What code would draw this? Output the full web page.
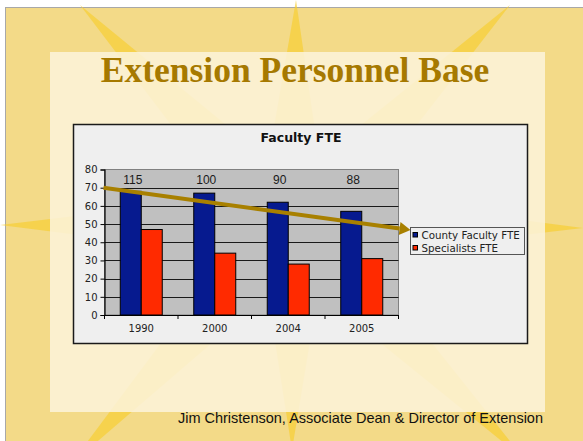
<!DOCTYPE html>
<html>
<head>
<meta charset="utf-8">
<script src="https://cdn.jsdelivr.net/npm/d3@7"></script>
<style>
  body { margin: 0; background: #fff; }
  svg { display: block; }
</style>
</head>
<body>
<svg></svg>
<script>
'use strict'

const years = ['1990', '2000', '2004', '2005']
const countyFaculty = [68, 67, 62, 57]
const specialists = [47, 34, 28, 31]
const totals = ['115', '100', '90', '88']
const seriesNames = ['County Faculty FTE', 'Specialists FTE']
const yTicks = [0, 10, 20, 30, 40, 50, 60, 70, 80]
const trend = [70, 46.7]

const colors = ['#061a8f', '#ff2a00']

const W = 583,
  H = 441

const svg = d3
  .select('svg')
  .attr('width', W)
  .attr('height', H)

// slide background
svg
  .append('rect')
  .attr('x', 5.5)
  .attr('y', 7.5)
  .attr('width', W - 5)
  .attr('height', H - 7)
  .attr('fill', '#f3da88')
  .attr('stroke', '#a8a8a8')
  .attr('stroke-width', 1)

// sun rays, pointed at the outer end
const cx = 293,
  cy = 226
const rayTips = [
  [296, 0],
  [292, 450],
  [0, 225],
  [583, 228],
  [80, 5],
  [510, 5],
  [70, 465],
  [525, 460]
]
svg
  .append('g')
  .selectAll('path')
  .data(rayTips)
  .join('path')
  .attr('d', d => {
    const dx = d[0] - cx,
      dy = d[1] - cy
    const len = Math.sqrt(dx * dx + dy * dy)
    const hw = 36
    const nx = (-dy / len) * hw,
      ny = (dx / len) * hw
    return (
      'M' + d[0] + ',' + d[1] +
      'L' + (cx + nx) + ',' + (cy + ny) +
      'L' + (cx - nx) + ',' + (cy - ny) + 'Z'
    )
  })
  .attr('fill', '#f6cf34')
  .attr('opacity', 0.7)

// light panel
svg
  .append('rect')
  .attr('x', 50)
  .attr('y', 52)
  .attr('width', 495)
  .attr('height', 360)
  .attr('fill', '#fcf2d8')
  .attr('opacity', 0.88)

svg
  .append('text')
  .attr('x', 295)
  .attr('y', 82)
  .attr('text-anchor', 'middle')
  .style('font-family', '"Liberation Serif", "Times New Roman", serif')
  .style('font-weight', 'bold')
  .style('font-size', '35.5px')
  .style('fill', '#a67900')
  .text('Extension Personnel Base')

svg
  .append('text')
  .attr('x', 543)
  .attr('y', 423)
  .attr('text-anchor', 'end')
  .style('font-family', '"Liberation Sans", Arial, sans-serif')
  .style('font-size', '14.5px')
  .style('fill', '#111')
  .text('Jim Christenson, Associate Dean & Director of Extension')

// chart box
svg
  .append('rect')
  .attr('x', 73.5)
  .attr('y', 124.5)
  .attr('width', 454)
  .attr('height', 219)
  .attr('fill', '#efefef')
  .attr('stroke', '#1a1a1a')
  .attr('stroke-width', 1.5)

svg
  .append('text')
  .attr('x', 301)
  .attr('y', 142)
  .attr('text-anchor', 'middle')
  .style('font-family', '"DejaVu Sans", Verdana, sans-serif')
  .style('font-weight', 'bold')
  .style('font-size', '12.5px')
  .style('fill', '#111')
  .text('Faculty FTE')

const plot = { left: 104.5, right: 398.5, top: 169.5, bottom: 315 }

const xScale = d3
  .scaleBand()
  .domain(years)
  .range([plot.left, plot.right])
  .paddingInner(0)
  .paddingOuter(0)

const barW = xScale.bandwidth() / 3.5

const yScale = d3
  .scaleLinear()
  .domain([0, 80])
  .range([plot.bottom, plot.top])

svg
  .append('rect')
  .attr('x', plot.left)
  .attr('y', plot.top)
  .attr('width', plot.right - plot.left)
  .attr('height', plot.bottom - plot.top)
  .attr('fill', '#c0c0c0')
  .attr('stroke', '#808080')
  .attr('stroke-width', 1)

svg
  .append('g')
  .selectAll('line')
  .data(yTicks.filter(t => t > 0 && t < 80))
  .join('line')
  .attr('x1', plot.left)
  .attr('x2', plot.right)
  .attr('y1', d => Math.round(yScale(d)) + 0.5)
  .attr('y2', d => Math.round(yScale(d)) + 0.5)
  .attr('stroke', '#1a1a1a')
  .attr('stroke-width', 1)

const series = [countyFaculty, specialists]

series.forEach((vals, s) => {
  svg
    .append('g')
    .selectAll('rect')
    .data(vals)
    .join('rect')
    .attr('x', (d, i) => xScale(years[i]) + barW * 0.75 + s * barW)
    .attr('y', d => yScale(d))
    .attr('width', barW)
    .attr('height', d => plot.bottom - yScale(d))
    .attr('fill', colors[s])
    .attr('stroke', '#000')
    .attr('stroke-width', 1)
})

// axes
const yAxis = svg
  .append('g')
  .attr('transform', 'translate(' + plot.left + ',0)')
  .call(
    d3
      .axisLeft(yScale)
      .tickValues(yTicks)
      .tickSize(4)
      .tickPadding(3)
  )

const xAxis = svg
  .append('g')
  .attr('transform', 'translate(0,' + plot.bottom + ')')
  .call(
    d3
      .axisBottom(xScale)
      .tickSize(0)
      .tickPadding(10)
  )

xAxis
  .selectAll('.tickmark')
  .data(d3.range(years.length + 1))
  .join('line')
  .attr('class', 'tickmark')
  .attr('x1', i => plot.left + i * xScale.bandwidth())
  .attr('x2', i => plot.left + i * xScale.bandwidth())
  .attr('y1', 0)
  .attr('y2', 4)
  .attr('stroke', '#000')

;[yAxis, xAxis].forEach(ax => {
  ax.select('.domain').attr('stroke', '#000').attr('stroke-width', 1.2)
  ax.selectAll('.tick line').attr('stroke', '#000')
  ax
    .selectAll('text')
    .style('font-family', '"DejaVu Sans", Verdana, sans-serif')
    .style('font-size', '10px')
    .style('fill', '#222')
})

// totals above bars
svg
  .append('g')
  .selectAll('text')
  .data(totals)
  .join('text')
  .attr('x', (d, i) => xScale(years[i]) + barW * 1.25 + 2)
  .attr('y', 183.5)
  .attr('text-anchor', 'middle')
  .style('font-family', '"Liberation Sans", Arial, sans-serif')
  .style('font-size', '12px')
  .style('fill', '#1a1a1a')
  .text(d => d)

// trend arrow
const arrowColor = '#a88000'
const x0 = plot.left - 1,
  y0 = yScale(trend[0]),
  x1 = plot.right + 12,
  y1 = yScale(trend[1])
const ang = Math.atan2(y1 - y0, x1 - x0)
const headLen = 11,
  headHalf = 6.5
const bx = x1 - headLen * Math.cos(ang),
  by = y1 - headLen * Math.sin(ang)

svg
  .append('line')
  .attr('x1', x0)
  .attr('y1', y0)
  .attr('x2', bx)
  .attr('y2', by)
  .attr('stroke', arrowColor)
  .attr('stroke-width', 4)

svg
  .append('path')
  .attr(
    'd',
    'M' + x1 + ',' + y1 +
    'L' + (bx - headHalf * Math.sin(ang)) + ',' + (by + headHalf * Math.cos(ang)) +
    'L' + (bx + headHalf * Math.sin(ang)) + ',' + (by - headHalf * Math.cos(ang)) + 'Z'
  )
  .attr('fill', arrowColor)

// legend
const legend = svg.append('g').attr('transform', 'translate(410,227)')

legend
  .append('rect')
  .attr('x', 0.5)
  .attr('y', 0.5)
  .attr('width', 114)
  .attr('height', 27)
  .attr('fill', '#efefef')
  .attr('stroke', '#555')
  .attr('stroke-width', 1)

const items = legend
  .selectAll('g.item')
  .data(seriesNames)
  .join('g')
  .attr('class', 'item')
  .attr('transform', (d, i) => 'translate(0,' + (i * 13) + ')')

items
  .append('rect')
  .attr('x', 3)
  .attr('y', 5.5)
  .attr('width', 4.5)
  .attr('height', 4.5)
  .attr('fill', (d, i) => colors[i])
  .attr('stroke', '#000')
  .attr('stroke-width', 1)

items
  .append('text')
  .attr('x', 11.5)
  .attr('y', 11.5)
  .style('font-family', '"DejaVu Sans", Verdana, sans-serif')
  .style('font-size', '10.3px')
  .style('fill', '#222')
  .text(d => d)
</script>
</body>
</html>
